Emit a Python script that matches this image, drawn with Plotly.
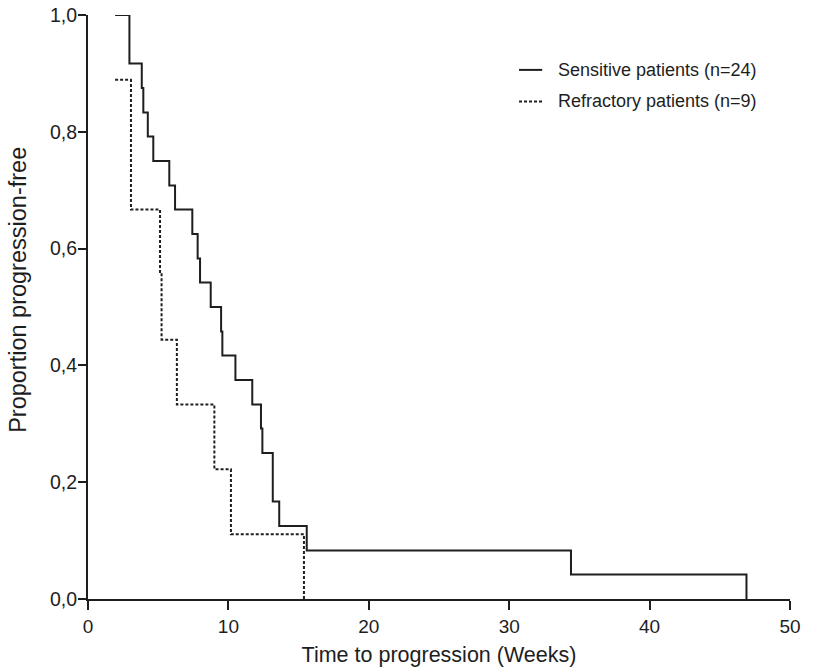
import plotly.graph_objects as go

# Kaplan-Meier style step data
sens_weeks = [1.93, 2.95, 3.83, 3.94, 4.26, 4.65, 5.79, 6.20, 7.43, 7.81, 7.98,
              8.74, 9.48, 9.57, 10.50, 11.70, 12.32, 12.42, 13.16, 13.62, 15.58,
              34.4, 46.9]
sens_prop = [1.0, 0.917, 0.875, 0.833, 0.792, 0.750, 0.708, 0.667, 0.625,
             0.583, 0.542, 0.500, 0.458, 0.417, 0.375, 0.333, 0.292, 0.250,
             0.167, 0.125, 0.083, 0.042, 0.0]

refr_weeks = [1.93, 3.06, 5.13, 5.24, 6.33, 9.0, 10.18, 15.38]
refr_prop = [0.889, 0.667, 0.556, 0.444, 0.333, 0.222, 0.111, 0.0]

x_ticks = [0, 10, 20, 30, 40, 50]
y_ticks = [0.0, 0.2, 0.4, 0.6, 0.8, 1.0]
y_tick_text = ["0,0", "0,2", "0,4", "0,6", "0,8", "1,0"]

series_names = ["Sensitive patients (n=24)", "Refractory patients (n=9)"]
series_dash = ["solid", "3px,2px"]

x_title = "Time to progression (Weeks)"
y_title = "Proportion progression-free"

FONT = "Liberation Sans, Arial, sans-serif"
INK = "#1e1e1e"

fig = go.Figure()
fig.add_trace(go.Scatter(
    x=sens_weeks, y=sens_prop, mode="lines", line_shape="hv",
    name=series_names[0], line=dict(color=INK, width=2, dash=series_dash[0]),
))
fig.add_trace(go.Scatter(
    x=refr_weeks, y=refr_prop, mode="lines", line_shape="hv",
    name=series_names[1], line=dict(color=INK, width=2, dash=series_dash[1]),
))

# Legend drawn as line samples + text (no border), top right
legend_rows_y = [0.906, 0.852]
for name, dash, yy in zip(series_names, series_dash, legend_rows_y):
    fig.add_shape(type="line", xref="paper", yref="paper",
                  x0=0.614, x1=0.647, y0=yy, y1=yy,
                  line=dict(color=INK, width=2, dash=dash))
    fig.add_annotation(xref="paper", yref="paper", x=0.667, y=yy,
                       xanchor="left", yanchor="middle", showarrow=False,
                       text=name, font=dict(size=18, color=INK, family=FONT))

# Y-axis title as rotated text
fig.add_annotation(xref="paper", yref="paper", x=-0.1, y=0.529,
                   xanchor="center", yanchor="middle", showarrow=False,
                   textangle=-90, text=y_title,
                   font=dict(size=23.5, color=INK, family=FONT))

fig.update_layout(
    width=828, height=667,
    margin=dict(l=88, r=38, t=15, b=68),
    paper_bgcolor="white", plot_bgcolor="white",
    font=dict(family=FONT, size=19, color=INK),
    showlegend=False,
    xaxis=dict(
        range=[0, 50], tickvals=x_ticks, ticktext=[str(v) for v in x_ticks],
        showgrid=False, zeroline=False, showline=True, linecolor=INK,
        linewidth=2, ticks="outside", ticklen=9, tickwidth=2, tickcolor=INK,
        automargin=False,
        title=dict(text=x_title, font=dict(size=21.5), standoff=13),
        tickfont=dict(size=19),
    ),
    yaxis=dict(
        range=[0, 1], tickvals=y_ticks, ticktext=y_tick_text,
        showgrid=False, zeroline=False, showline=True, linecolor=INK,
        linewidth=2, ticks="outside", ticklen=8, tickwidth=2, tickcolor=INK,
        automargin=False, ticklabelstandoff=-3,
        tickfont=dict(size=19.5),
    ),
)

fig.write_html("out.html")
